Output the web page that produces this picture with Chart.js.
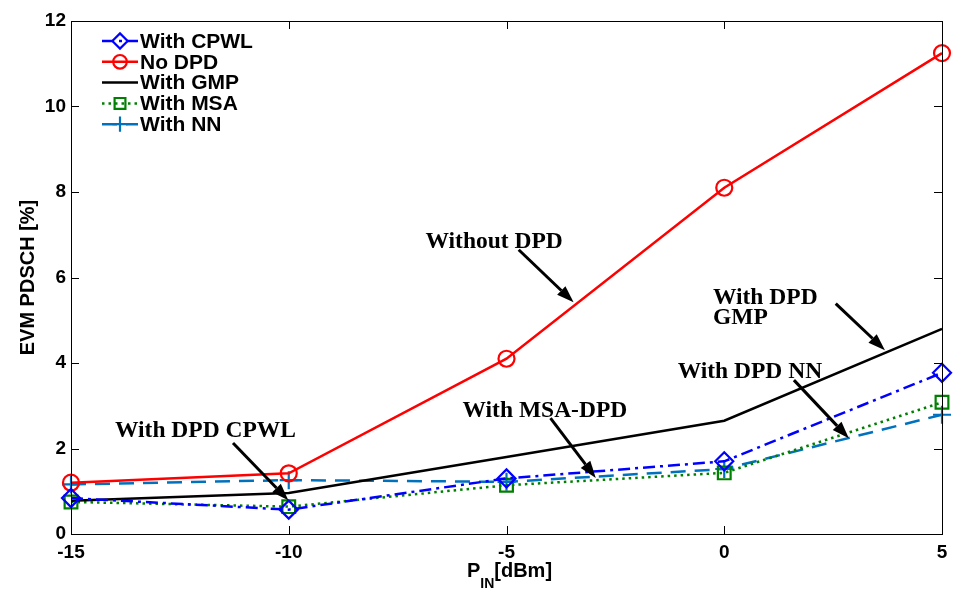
<!DOCTYPE html>
<html lang="en">
<head>
<meta charset="UTF-8">
<title>EVM PDSCH vs P_IN</title>
<script src="https://cdn.jsdelivr.net/npm/chart.js"></script>
<style>
  body { margin: 0; background: #fff; }
  #wrap { width: 957px; height: 589px; }
</style>
</head>
<body>
<div id="wrap"><canvas id="evm" width="957" height="589"></canvas></div>
<script>
// x values (input power, dBm) and EVM (%) per curve
const pinDbm = [-15, -10, -5, 0, 5];
const evmCpwl = [0.84, 0.57, 1.3, 1.7, 3.77];
const evmNoDpd = [1.2, 1.42, 4.1, 8.1, 11.25];
const evmGmp = [0.78, 0.96, 1.8, 2.65, 4.8];
const evmMsa = [0.75, 0.64, 1.14, 1.43, 3.08];
const evmNn = [1.16, 1.26, 1.22, 1.52, 2.79];
const xTicks = [-15, -10, -5, 0, 5];
const yTicks = [0, 2, 4, 6, 8, 10, 12];

// text callouts: label lines, label anchor and arrow in data units
const callouts = [
  { lines: ['Without DPD'], x: -6.86, y: 6.70, from: [-4.72, 6.65], to: [-3.46, 5.42] },
  { lines: ['With DPD', 'GMP'], x: -0.26, y: 5.39, from: [2.56, 5.39], to: [3.69, 4.30] },
  { lines: ['With DPD NN'], x: -1.07, y: 3.64, from: [1.60, 3.60], to: [2.86, 2.24] },
  { lines: ['With MSA-DPD'], x: -6.01, y: 2.73, from: [-3.99, 2.71], to: [-2.95, 1.31] },
  { lines: ['With DPD CPWL'], x: -13.99, y: 2.27, from: [-11.28, 2.13], to: [-10.01, 0.79] }
];

const sans = 'Liberation Sans, Arial, sans-serif';
const serif = 'Liberation Serif, Times New Roman, serif';
const pts = ys => pinDbm.map((x, i) => ({ x: x, y: ys[i] }));

function series(label, ys, color, dash, style, radius) {
  return {
    label: label, data: pts(ys), borderColor: color, borderWidth: 2.5,
    borderDash: dash, pointStyle: style, pointRadius: radius,
    pointBorderColor: color, pointBackgroundColor: 'rgba(0,0,0,0)',
    pointBorderWidth: 2.2, tension: 0, fill: false, clip: false
  };
}

const datasets = [
  series('With CPWL', evmCpwl, '#0000ff', [12, 5, 3, 5], 'rectRot', 9),
  series('No DPD', evmNoDpd, '#ff0000', [], 'circle', 8),
  series('With GMP', evmGmp, '#000000', [], false, 0),
  series('With MSA', evmMsa, '#008000', [2.5, 4], 'rect', 9),
  series('With NN', evmNn, '#0072bd', [15, 9], 'cross', 9)
];

const boxAndNotes = {
  id: 'boxAndNotes',
  afterDraw(chart) {
    const { ctx, chartArea: a, scales: { x, y } } = chart;
    ctx.save();
    // frame and inward ticks on all four sides
    ctx.strokeStyle = '#000';
    ctx.lineWidth = 1;
    ctx.setLineDash([]);
    ctx.strokeRect(a.left + 0.5, a.top + 0.5, a.right - a.left, a.bottom - a.top);
    ctx.beginPath();
    yTicks.forEach(v => {
      const py = Math.round(y.getPixelForValue(v)) + 0.5;
      ctx.moveTo(a.left, py); ctx.lineTo(a.left + 8, py);
      ctx.moveTo(a.right, py); ctx.lineTo(a.right - 8, py);
    });
    xTicks.forEach(v => {
      const px = Math.round(x.getPixelForValue(v)) + 0.5;
      ctx.moveTo(px, a.bottom); ctx.lineTo(px, a.bottom - 8);
      ctx.moveTo(px, a.top); ctx.lineTo(px, a.top + 8);
    });
    ctx.stroke();

    // x title with subscript
    ctx.fillStyle = '#000';
    ctx.textBaseline = 'alphabetic';
    ctx.textAlign = 'left';
    const big = 'bold 20px ' + sans, small = 'bold 14px ' + sans;
    ctx.font = big; const wP = ctx.measureText('P').width, wT = ctx.measureText('[dBm]').width;
    ctx.font = small; const wS = ctx.measureText('IN').width;
    let tx = (a.left + a.right) / 2 + 3 - (wP + wS + wT) / 2;
    ctx.font = big; ctx.fillText('P', tx, 577); tx += wP;
    ctx.font = small; ctx.fillText('IN', tx, 588); tx += wS;
    ctx.font = big; ctx.fillText('[dBm]', tx, 577);

    // legend inside the axes
    ctx.textBaseline = 'middle';
    chart.data.datasets.forEach((d, i) => {
      const ly = 41 + i * 20.8;
      ctx.strokeStyle = d.borderColor;
      ctx.lineWidth = d.borderWidth;
      ctx.setLineDash(d.borderDash);
      ctx.beginPath(); ctx.moveTo(102, ly); ctx.lineTo(138, ly); ctx.stroke();
      ctx.setLineDash([]);
      if (d.pointStyle) {
        ctx.fillStyle = d.pointBackgroundColor;
        ctx.lineWidth = d.pointBorderWidth;
        Chart.helpers.drawPoint(ctx, { pointStyle: d.pointStyle, radius: d.pointRadius * 0.85, borderWidth: d.pointBorderWidth, rotation: 0 }, 120, ly);
      }
      ctx.fillStyle = '#000';
      ctx.font = 'bold 21px ' + sans;
      ctx.fillText(d.label, 140, ly + 1);
    });

    // callouts with arrows
    ctx.textBaseline = 'alphabetic';
    ctx.font = 'bold 23.5px ' + serif;
    ctx.fillStyle = '#000';
    ctx.strokeStyle = '#000';
    callouts.forEach(c => {
      const px = x.getPixelForValue(c.x), py = y.getPixelForValue(c.y);
      c.lines.forEach((t, k) => ctx.fillText(t, px, py + k * 20));
      const x0 = x.getPixelForValue(c.from[0]), y0 = y.getPixelForValue(c.from[1]);
      const x1 = x.getPixelForValue(c.to[0]), y1 = y.getPixelForValue(c.to[1]);
      const ang = Math.atan2(y1 - y0, x1 - x0), hl = 17, hw = 6;
      const bx = x1 - hl * Math.cos(ang), by = y1 - hl * Math.sin(ang);
      ctx.lineWidth = 3;
      ctx.beginPath(); ctx.moveTo(x0, y0); ctx.lineTo(bx, by); ctx.stroke();
      ctx.beginPath();
      ctx.moveTo(x1, y1);
      ctx.lineTo(bx + hw * Math.sin(ang), by - hw * Math.cos(ang));
      ctx.lineTo(bx - hw * Math.sin(ang), by + hw * Math.cos(ang));
      ctx.closePath(); ctx.fill();
    });
    ctx.restore();
  }
};

const tickFont = { family: sans, weight: 'bold', size: 19 };

new Chart(document.getElementById('evm'), {
  type: 'line',
  data: { datasets: datasets },
  options: {
    responsive: false,
    animation: false,
    layout: { padding: { top: 21, right: 15, left: 0, bottom: 0 } },
    plugins: { legend: { display: false }, tooltip: { enabled: false } },
    scales: {
      x: {
        type: 'linear', min: -15, max: 5,
        afterBuildTicks: s => { s.ticks = xTicks.map(v => ({ value: v })); },
        afterFit: s => { s.height = 55; },
        grid: { display: false, drawTicks: false },
        border: { display: false },
        ticks: { font: tickFont, color: '#000', padding: 7, maxRotation: 0 }
      },
      y: {
        min: 0, max: 12,
        afterBuildTicks: s => { s.ticks = yTicks.map(v => ({ value: v })); },
        afterFit: s => { s.width = 71; },
        grid: { display: false, drawTicks: false },
        border: { display: false },
        ticks: { font: tickFont, color: '#000', padding: 5 },
        title: {
          display: true, text: 'EVM PDSCH [%]', color: '#000',
          font: { family: sans, weight: 'bold', size: 20 },
          padding: { top: 16, bottom: 0 }
        }
      }
    }
  },
  plugins: [boxAndNotes]
});
</script>
</body>
</html>
